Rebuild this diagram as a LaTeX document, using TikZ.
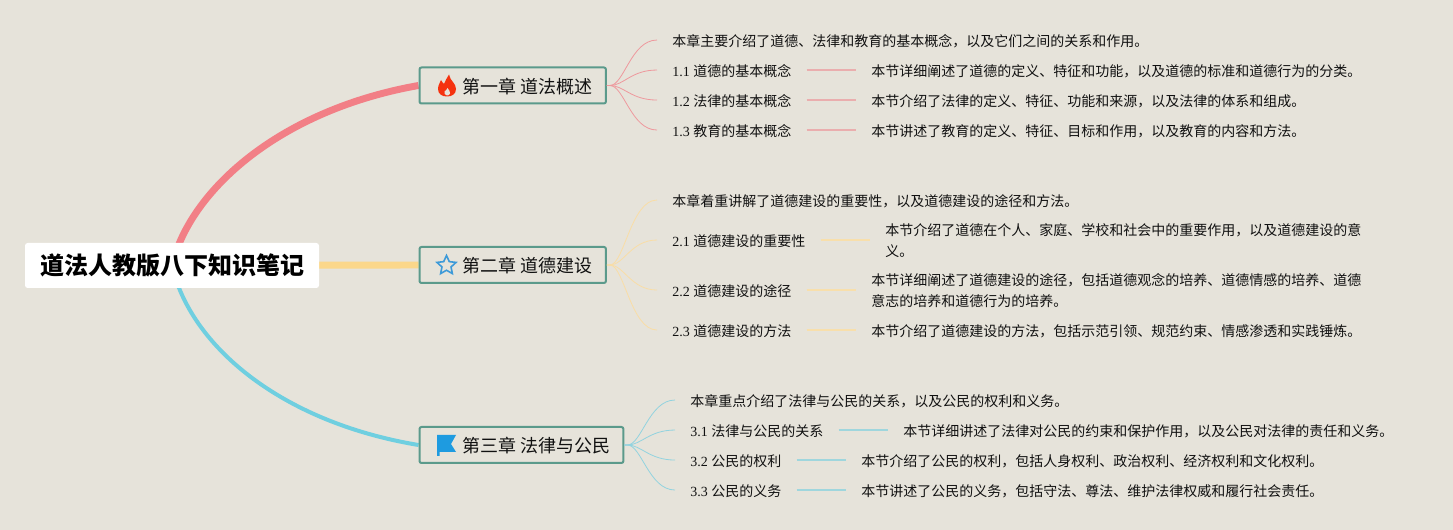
\documentclass[tikz,border=0pt]{standalone}
\usepackage{fontspec}
\setmainfont{Liberation Serif}
\newfontfamily\cjk{Noto Sans CJK SC}
\usetikzlibrary{backgrounds,shapes.geometric}
\definecolor{bgc}{HTML}{E6E3DA}
\definecolor{pinkc}{HTML}{F27F86}
\definecolor{yelc}{HTML}{FBD78A}
\definecolor{bluec}{HTML}{6FCFE0}
\definecolor{pinkf}{HTML}{EE999D}
\definecolor{yelf}{HTML}{F9DDA6}
\definecolor{bluef}{HTML}{92D3DF}
\definecolor{pinkl}{HTML}{EAAEAE}
\definecolor{yell}{HTML}{F8DFAB}
\definecolor{bluel}{HTML}{9FD6DD}
\definecolor{tealc}{HTML}{5B9A8B}
\definecolor{inkc}{HTML}{111111}
\definecolor{starc}{HTML}{3D9AD8}
\definecolor{flagc}{HTML}{1E9BE0}
\definecolor{flamec}{HTML}{F5320F}
\newcommand{\nm}[1]{{\rmfamily #1 }}
\newcommand{\lstrut}{\rule[-2pt]{0pt}{9.5pt}}
\newcommand{\cstrut}{\rule{0pt}{12.5pt}}
\newcommand{\rstrut}{\rule{0pt}{15.6pt}}
\tikzset{
  x=0.75pt,y=-0.75pt,
  rootbox/.style={fill=white,rounded corners=2pt,inner xsep=0pt,inner ysep=0pt,minimum height=33.75pt,minimum width=220.5pt,text=black,font=\cjk\bfseries\fontsize{18pt}{24pt}\selectfont},
  chapbox/.style={anchor=west,draw=tealc,line width=1.5pt,rounded corners=1.5pt,inner xsep=12pt,inner ysep=0pt,minimum height=27pt,text=inkc,font=\cjk\fontsize{13.5pt}{16pt}\selectfont},
  leaf/.style={anchor=west,inner xsep=11.25pt,inner ysep=1pt,align=left,text=inkc,font=\cjk\fontsize{10.5pt}{15.75pt}\selectfont,execute at begin node=\lstrut},
  sub/.style={line width=0.6pt},
  link/.style={line width=1.1pt},
}
\begin{document}
\begin{tikzpicture}
\useasboundingbox (0,0) rectangle (1453,530);
\begin{pgfonlayer}{background}
\fill[bgc] (0,0) rectangle (1453,530);
\end{pgfonlayer}

\node[rootbox] (root) at (172,265.5) {\rstrut\hspace{0.7pt}道法人教版八下知识笔记};
\node[chapbox] (ch1) at (418.5,85.5) {\cstrut\hspace{20.5pt}第一章 道法概述\kern-2.2pt\relax};
\node[chapbox] (ch2) at (418.5,265) {\cstrut\hspace{20.5pt}第二章 道德建设\kern-2.2pt\relax};
\node[chapbox] (ch3) at (418.5,445) {\cstrut\hspace{20.5pt}第三章 法律与公民\kern-2.6pt\relax};

% chapter 1
\node[leaf] (a0) at (657,41.5) {本章主要介绍了道德、法律和教育的基本概念，以及它们之间的关系和作用。};
\node[leaf] (a1) at (657,71.5) {\nm{1.1}道德的基本概念};
\node[leaf] (a2) at (657,101.5) {\nm{1.2}法律的基本概念};
\node[leaf] (a3) at (657,131.5) {\nm{1.3}教育的基本概念};
\node[leaf] (a1d) at (856,71.5) {本节详细阐述了道德的定义、特征和功能，以及道德的标准和道德行为的分类。};
\node[leaf] (a2d) at (856,101.5) {本节介绍了法律的定义、特征、功能和来源，以及法律的体系和组成。};
\node[leaf] (a3d) at (856,131.5) {本节讲述了教育的定义、特征、目标和作用，以及教育的内容和方法。};
% chapter 2
\node[leaf] (b0) at (657,201.5) {本章着重讲解了道德建设的重要性，以及道德建设的途径和方法。};
\node[leaf] (b1) at (657,241.5) {\nm{2.1}道德建设的重要性};
\node[leaf] (b2) at (657,291.5) {\nm{2.2}道德建设的途径};
\node[leaf] (b3) at (657,331.5) {\nm{2.3}道德建设的方法};
\node[leaf] (b1d) at (870,241.5) {本节介绍了道德在个人、家庭、学校和社会中的重要作用，以及道德建设的意\\\lstrut 义。};
\node[leaf] (b2d) at (856,291.5) {本节详细阐述了道德建设的途径，包括道德观念的培养、道德情感的培养、道德\\\lstrut 意志的培养和道德行为的培养。};
\node[leaf] (b3d) at (856,331.5) {本节介绍了道德建设的方法，包括示范引领、规范约束、情感渗透和实践锤炼。};
% chapter 3
\node[leaf] (c0) at (675,401.5) {本章重点介绍了法律与公民的关系，以及公民的权利和义务。};
\node[leaf] (c1) at (675,431.5) {\nm{3.1}法律与公民的关系};
\node[leaf] (c2) at (675,461.5) {\nm{3.2}公民的权利};
\node[leaf] (c3) at (675,491.5) {\nm{3.3}公民的义务};
\node[leaf] (c1d) at (888,431.5) {本节详细讲述了法律对公民的约束和保护作用，以及公民对法律的责任和义务。};
\node[leaf] (c2d) at (846,461.5) {本节介绍了公民的权利，包括人身权利、政治权利、经济权利和文化权利。};
\node[leaf] (c3d) at (846,491.5) {本节讲述了公民的义务，包括守法、尊法、维护法律权威和履行社会责任。};

\begin{pgfonlayer}{background}
\draw[pinkc,line width=5.2pt] (root.center) .. controls (190,190) and (280,110) .. (ch1.west);
\draw[yelc,line width=5.2pt] (root.center) -- (ch2.west);
\draw[bluec,line width=3pt] (root.center) .. controls (190,345) and (280,422) .. (ch3.west);
\end{pgfonlayer}

% fans
\foreach \t in {a0,a1,a2,a3}
  \draw[pinkf,sub] (ch1.east) -- +(3,0) .. controls +(14,0) and +(-26,0) .. ([yshift=1.1pt]\t.west);
\foreach \t in {b0,b1,b2,b3}
  \draw[yelf,sub] (ch2.east) -- +(3,0) .. controls +(14,0) and +(-26,0) .. ([yshift=1.1pt]\t.west);
\foreach \t in {c0,c1,c2,c3}
  \draw[bluef,sub] (ch3.east) -- +(3,0) .. controls +(14,0) and +(-26,0) .. ([yshift=1.1pt]\t.west);

% leaf to detail
\foreach \s/\d in {a1/a1d,a2/a2d,a3/a3d}
  \draw[pinkl,link] ([yshift=1.1pt]\s.east) -- ([yshift=1.1pt]\d.west);
\foreach \s/\d in {b1/b1d,b2/b2d,b3/b3d}
  \draw[yell,link] ([yshift=1.1pt]\s.east) -- ([yshift=1.1pt]\d.west);
\foreach \s/\d in {c1/c1d,c2/c2d,c3/c3d}
  \draw[bluel,link] ([yshift=1.1pt]\s.east) -- ([yshift=1.1pt]\d.west);

% icons
\fill[flamec] (449,74.5) .. controls (450,81) and (456,83) .. (456,89)
  .. controls (456,94) and (452,96.5) .. (447,96.5)
  .. controls (442,96.5) and (438,94) .. (438,89)
  .. controls (438,85) and (440,83) .. (441,80)
  .. controls (442,82) and (443,83) .. (444,84)
  .. controls (445,81) and (447,78) .. (449,74.5) -- cycle;
\fill[bgc] (447,95.5) .. controls (445,95.5) and (443.5,93) .. (444.5,91)
  .. controls (445.5,91.5) and (446.5,90) .. (447.5,88)
  .. controls (448.5,90) and (451,92) .. (450,93.5)
  .. controls (449.5,95) and (448.5,95.5) .. (447,95.5) -- cycle;
\node[star,star points=5,star point ratio=2.1,draw=starc,line width=1.2pt,inner sep=0pt,minimum size=15pt] (icon2) at (446.5,265.5) {};
\fill[flagc] (437,435) -- (456,435) -- (451,444) -- (456,452) -- (439.5,452) -- (439.5,456) -- (437,456) -- cycle;
\end{tikzpicture}
\end{document}
